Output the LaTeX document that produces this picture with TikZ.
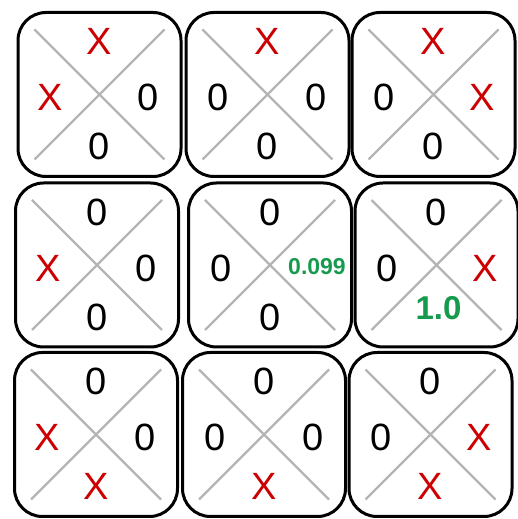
\documentclass[tikz,border=0pt]{standalone}
\usepackage{fontspec}
\setmainfont{Liberation Sans}
\usepackage{tikz,xcolor}
\definecolor{xred}{RGB}{204,0,0}
\definecolor{qgreen}{RGB}{22,155,78}
\definecolor{diaggray}{RGB}{180,180,180}
\tikzset{
  % one square of the board
  cell/.style={draw=black,line width=3pt,rounded corners=28pt,
    minimum width=163pt,minimum height=164pt},
  % the two crossing lines inside a square
  diag/.style={draw=diaggray,line width=2.2pt},
  % marks in the four triangles
  xmark/.style={text=xred,inner sep=0pt},
  omark/.style={text=black,inner sep=0pt},
  qval/.style={text=qgreen,inner sep=0pt,font=\bfseries\fontsize{#1}{#1}\selectfont},
}

\begin{document}
\begin{tikzpicture}[x=1pt,y=1pt,font=\fontsize{38}{40}\selectfont]
\useasboundingbox (0,0) rectangle (518,519);
% squares
\node[cell] (c11) at (99.5,424.5) {};
\node[cell] (c12) at (267.5,424.5) {};
\node[cell] (c13) at (433.5,424.5) {};
\node[cell] (c21) at (97,254) {};
\node[cell] (c22) at (270,254) {};
\node[cell] (c23) at (436.5,254) {};
\node[cell] (c31) at (96,84.5) {};
\node[cell] (c32) at (264,84.5) {};
\node[cell] (c33) at (430.5,84.5) {};
\foreach \c in {c11,c12,c13,c21,c22,c23,c31,c32,c33}{
  \draw[diag] ([shift={(-65,65)}]\c.center) -- ([shift={(65,-65)}]\c.center);
  \draw[diag] ([shift={(-65,-65)}]\c.center) -- ([shift={(65,65)}]\c.center);
}
% first row
\node[xmark] (c11t) at ([shift={(0,53)}]c11.center) {X};
\node[xmark] (c11l) at ([shift={(-49,-3)}]c11.center) {X};
\node[omark] (c11r) at ([shift={(49,-3)}]c11.center) {0};
\node[omark] (c11b) at ([shift={(0,-52)}]c11.center) {0};
\node[xmark] (c12t) at ([shift={(0,53)}]c12.center) {X};
\node[omark] (c12l) at ([shift={(-49,-3)}]c12.center) {0};
\node[omark] (c12r) at ([shift={(49,-3)}]c12.center) {0};
\node[omark] (c12b) at ([shift={(0,-52)}]c12.center) {0};
\node[xmark] (c13t) at ([shift={(0,53)}]c13.center) {X};
\node[omark] (c13l) at ([shift={(-49,-3)}]c13.center) {0};
\node[xmark] (c13r) at ([shift={(49,-3)}]c13.center) {X};
\node[omark] (c13b) at ([shift={(0,-52)}]c13.center) {0};
% second row
\node[omark] (c21t) at ([shift={(0,53)}]c21.center) {0};
\node[xmark] (c21l) at ([shift={(-49,-3)}]c21.center) {X};
\node[omark] (c21r) at ([shift={(49,-3)}]c21.center) {0};
\node[omark] (c21b) at ([shift={(0,-52)}]c21.center) {0};
\node[omark] (c22t) at ([shift={(0,53)}]c22.center) {0};
\node[omark] (c22l) at ([shift={(-49,-3)}]c22.center) {0};
\node[qval=23] (c22r) at ([shift={(47,-2)}]c22.center) {0.099};
\node[omark] (c22b) at ([shift={(0,-52)}]c22.center) {0};
\node[omark] (c23t) at ([shift={(0,53)}]c23.center) {0};
\node[omark] (c23l) at ([shift={(-49,-3)}]c23.center) {0};
\node[xmark] (c23r) at ([shift={(49,-3)}]c23.center) {X};
\node[qval=33] (c23b) at ([shift={(2,-43)}]c23.center) {1.0};
% third row
\node[omark] (c31t) at ([shift={(0,53)}]c31.center) {0};
\node[xmark] (c31l) at ([shift={(-49,-3)}]c31.center) {X};
\node[omark] (c31r) at ([shift={(49,-3)}]c31.center) {0};
\node[xmark] (c31b) at ([shift={(0,-52)}]c31.center) {X};
\node[omark] (c32t) at ([shift={(0,53)}]c32.center) {0};
\node[omark] (c32l) at ([shift={(-49,-3)}]c32.center) {0};
\node[omark] (c32r) at ([shift={(49,-3)}]c32.center) {0};
\node[xmark] (c32b) at ([shift={(0,-52)}]c32.center) {X};
\node[omark] (c33t) at ([shift={(0,53)}]c33.center) {0};
\node[omark] (c33l) at ([shift={(-49,-3)}]c33.center) {0};
\node[xmark] (c33r) at ([shift={(49,-3)}]c33.center) {X};
\node[xmark] (c33b) at ([shift={(0,-52)}]c33.center) {X};
\end{tikzpicture}
\end{document}
